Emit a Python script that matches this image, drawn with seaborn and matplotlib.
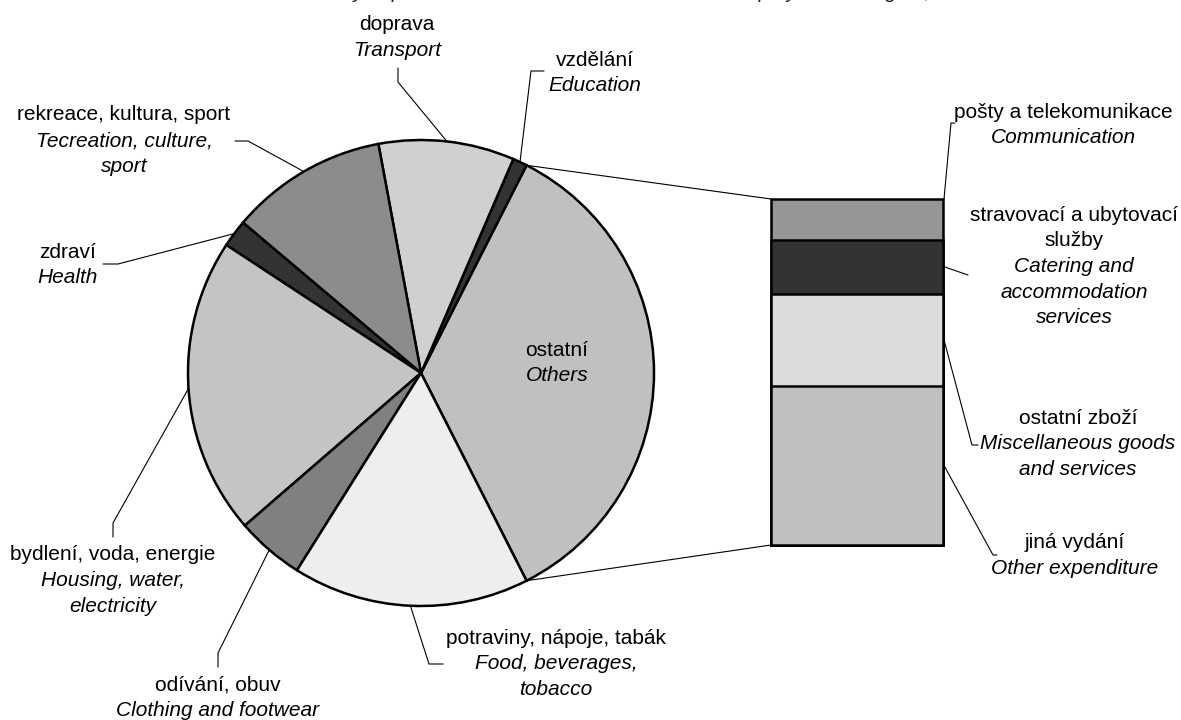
import numpy as np
import matplotlib
matplotlib.use("Agg")
import matplotlib.pyplot as plt
import seaborn as sns
import pandas as pd
from matplotlib.lines import Line2D
from matplotlib.patches import ConnectionPatch

# DATA - shares of net money expenditure (%)
pie_cz = ["ostatní", "vzdělání", "doprava", "rekreace, kultura, sport", "zdraví",
          "bydlení, voda, energie", "odívání, obuv", "potraviny, nápoje, tabák"]
pie_en = ["Others", "Education", "Transport", "Tecreation, culture,\nsport", "Health",
          "Housing, water,\nelectricity", "Clothing and footwear", "Food, beverages,\ntobacco"]
main_values = [1.0, 9.4, 10.9, 1.9, 20.6, 4.7, 16.4]

bar_cz = ["pošty a telekomunikace", "stravovací a ubytovací\nslužby", "ostatní zboží", "jiná vydání"]
bar_en = ["Communication", "Catering and\naccommodation\nservices",
          "Miscellaneous goods\nand services", "Other expenditure"]
bar_values = [4.1, 5.5, 9.3, 16.1]  # top to bottom

title_en = "Net money expenditure structure in households of employees in Region, 2005"

pie_colors = ["#c0c0c0", "#333333", "#d0d0d0", "#8c8c8c", "#333333", "#c4c4c4", "#808080", "#eeeeee"]
bar_colors = ["#969696", "#333333", "#dcdcdc", "#c0c0c0"]

# LAYOUT (pixels)
W, H = 1181, 720
CX, CY, R = 421, 373, 233
BAR_L, BAR_R, BAR_T, BAR_B = 771, 943, 199, 545
FS = 15
LINE = 25.7

sns.set_theme(style="white")
plt.rcParams["font.family"] = ["Liberation Sans", "DejaVu Sans"]

fig = plt.figure(figsize=(W / 100, H / 100), dpi=100)


def fx(x):
    return x / W


def fy(y):
    return 1 - y / H


# pie
pie_values = [sum(bar_values)] + main_values
total = sum(pie_values)
others_angle = pie_values[0] / total * 360
start = -others_angle / 2

m = 1.1
ax_pie = fig.add_axes([fx(CX - R * m), fy(CY + R * m), 2 * R * m / W, 2 * R * m / H])
ax_pie.pie(pie_values, colors=pie_colors, startangle=start, counterclock=True,
           wedgeprops=dict(edgecolor="black", linewidth=1.8))
ax_pie.set_xlim(-m, m)
ax_pie.set_ylim(-m, m)
ax_pie.axis("off")

# angles of each slice
edges = start + np.cumsum([0] + pie_values) / total * 360
mids = (edges[:-1] + edges[1:]) / 2

# stacked bar of "others" with seaborn (tallest first, then overlay)
ax_bar = fig.add_axes([fx(BAR_L), fy(BAR_B), (BAR_R - BAR_L) / W, (BAR_B - BAR_T) / H])
cum = np.cumsum(bar_values[::-1])[::-1]  # heights from bottom, top segment first
for h, c in zip(cum, bar_colors):
    df = pd.DataFrame({"g": ["ostatní"], "v": [h]})
    sns.barplot(data=df, x="g", y="v", color=c, width=1.0, edgecolor="black",
                linewidth=1.8, saturation=1, ax=ax_bar)
for p in ax_bar.patches:
    p.set_clip_on(False)
ax_bar.set_xlim(-0.5, 0.5)
ax_bar.set_ylim(0, cum[0])
ax_bar.axis("off")

# connectors pie -> bar
for ang, yb in [(edges[1], 1.0), (edges[0], 0.0)]:
    a = np.deg2rad(ang)
    con = ConnectionPatch(xyA=(np.cos(a), np.sin(a)), coordsA="data", axesA=ax_pie,
                          xyB=(0.0, yb), coordsB="axes fraction", axesB=ax_bar,
                          color="black", linewidth=0.8)
    fig.add_artist(con)


def label(x, y, cz, en):
    lines = [(t, "normal") for t in cz.split("\n")] + [(t, "italic") for t in en.split("\n")]
    for i, (t, st) in enumerate(lines):
        fig.text(fx(x), fy(y + i * LINE), t, ha="center", va="center",
                 fontsize=FS, style=st, color="black")


def leader(pts):
    xs = [fx(p[0]) for p in pts]
    ys = [fy(p[1]) for p in pts]
    fig.add_artist(Line2D(xs, ys, transform=fig.transFigure, color="black", linewidth=0.8))


# label positions (first line centre) and leader stubs
pie_label_pos = [(557, 350), (595, 60), (397, 25), (124, 115), (68, 252),
                 (113, 555), (218, 685), (556, 638)]
pie_stubs = [None, [(544, 71), (531, 71)], [(398, 68), (398, 82)], [(235, 141), (248, 141)],
             [(103, 264), (118, 264)], [(113, 537), (113, 523)], [(218, 667), (218, 653)],
             [(443, 664), (429, 664)]]

for i in range(len(pie_cz)):
    label(*pie_label_pos[i], pie_cz[i], pie_en[i])
    if pie_stubs[i] is not None:
        a = np.deg2rad(mids[i])
        edge = (CX + R * np.cos(a), CY - R * np.sin(a))
        leader(pie_stubs[i] + [edge])

bar_label_pos = [(1063, 112), (1074, 215), (1078, 418), (1075, 543)]
bar_stubs = [[(955, 123), (951, 123)], [(968, 275)], [(978, 445), (972, 445)],
             [(997, 555), (993, 555)]]
scale = (BAR_B - BAR_T) / cum[0]
for i in range(len(bar_cz)):
    label(*bar_label_pos[i], bar_cz[i], bar_en[i])
    if i == 0:
        yv = cum[0]
    else:
        yv = cum[i] - bar_values[i] / 2
    leader(bar_stubs[i] + [(BAR_R + 1, BAR_B - yv * scale)])

# title line, cut at the top edge as in the source
fig.text(fx(623), 1 + 2 / H, title_en, ha="center", va="baseline", fontsize=FS, style="italic")

fig.savefig("out.png", dpi=100, facecolor="white")
